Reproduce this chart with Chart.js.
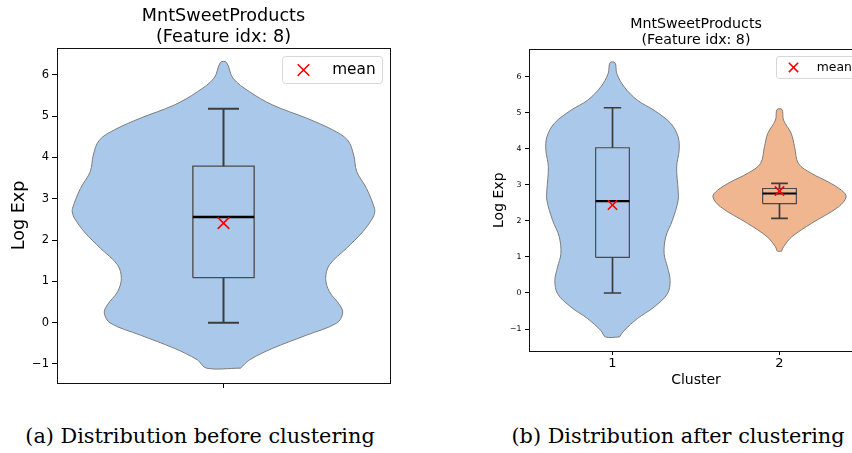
<!DOCTYPE html>
<html><head><meta charset="utf-8">
<script src="https://cdn.jsdelivr.net/npm/chart.js@4.4.1/dist/chart.umd.min.js"></script>
<style>
html,body{margin:0;padding:0;background:#fff;overflow:hidden;width:852px;height:453px;}
#wrap{position:relative;width:852px;height:453px;overflow:hidden;background:#fff;}
.cv{position:absolute;top:0;}
.cap{position:absolute;font-family:'DejaVu Serif';font-size:20.8px;line-height:21px;white-space:nowrap;color:#000;text-align:center;}
</style></head><body>
<div id="wrap">
<div class="cv" style="left:0;"><canvas id="c1" width="400" height="395"></canvas></div>
<div class="cv" style="left:480px;"><canvas id="c2" width="400" height="400"></canvas></div>
<div class="cap" style="left:0;width:400px;top:426px">(a) Distribution before clustering</div>
<div class="cap" style="left:478px;width:400px;top:426px">(b) Distribution after clustering</div>
</div>
<script>
// ---------- data ----------
const chartTitle = ['MntSweetProducts', '(Feature idx: 8)'];
const yAxisLabel = 'Log Exp';
const xAxisLabel = 'Cluster';
const meanLabel = 'mean';
const yTickValues = [-1, 0, 1, 2, 3, 4, 5, 6];
const clusterIds = [1, 2];

// (a) before clustering: violin outline (value, half width) and box stats
const allY  = [-1.10, -0.90, -0.62, -0.30, -0.01, 0.23, 0.43, 0.75, 1.07, 1.40, 1.80, 2.20, 2.53, 2.65, 2.77, 3.25, 3.66, 4.06, 4.42, 4.67, 4.95, 5.27, 5.59, 5.92, 6.30];
const allHW = [0.045, 0.069, 0.130, 0.220, 0.299, 0.315, 0.307, 0.280, 0.270, 0.280, 0.325, 0.368, 0.394, 0.399, 0.399, 0.378, 0.352, 0.344, 0.328, 0.288, 0.220, 0.130, 0.069, 0.025, 0.008];
const allBox = [0.00, 1.09, 2.56, 3.79, 5.18];   // min, q1, median, q3, max
const allMean = 2.41;

// (b) cluster 1
const c1Y  = [-1.22, -1.04, -0.71, -0.39, -0.02, 0.35, 0.72, 1.09, 1.56, 2.02, 2.57, 2.85, 3.50, 3.96, 4.33, 4.71, 5.07, 5.35, 5.72, 6.09, 6.39];
const c1HW = [0.042, 0.070, 0.149, 0.249, 0.329, 0.345, 0.329, 0.309, 0.319, 0.359, 0.393, 0.393, 0.384, 0.399, 0.393, 0.348, 0.249, 0.149, 0.070, 0.026, 0.015];
const c1Box = [0.00, 0.99, 2.55, 4.03, 5.14];
const c1Mean = 2.44;

// (b) cluster 2
const c2Y  = [1.16, 1.28, 1.56, 1.93, 2.39, 2.67, 2.85, 3.08, 3.32, 3.59, 4.06, 4.43, 4.80, 5.09];
const c2HW = [0.012, 0.024, 0.074, 0.191, 0.353, 0.399, 0.371, 0.293, 0.191, 0.114, 0.090, 0.070, 0.024, 0.015];
const c2Box = [2.07, 2.48, 2.76, 2.90, 3.04];
const c2Mean = 2.83;

// ---------- styling ----------
const BLUE = '#aac8ea', ORANGE = '#f0b690';
const FONT = "'DejaVu Sans'";

function violinPts(c, ys, hws) {
  const p = [];
  for (let i = 0; i < ys.length; i++) p.push({x: c + hws[i], y: ys[i]});
  for (let i = ys.length - 1; i >= 0; i--) p.push({x: c - hws[i], y: ys[i]});
  p.push({x: c + hws[0], y: ys[0]});
  return p;
}

function group(c, ys, hws, box, mean, color, st) {
  const [mn, q1, med, q3, mx] = box;
  const bw = st.boxHW, cw = st.capHW;
  const line = {type: 'scatter', showLine: true, pointRadius: 0, pointHoverRadius: 0, fill: false, tension: 0};
  return [
    {label: 'violin', data: violinPts(c, ys, hws), showLine: true, fill: 'shape', tension: 0.35,
     backgroundColor: color, borderColor: '#7c7c7c', borderWidth: 1, pointRadius: 0, order: 10},
    Object.assign({}, line, {label: 'box', order: 6, borderColor: '#4a4a4a', borderWidth: st.boxLW,
     data: [{x: c - bw, y: q1}, {x: c + bw, y: q1}, {x: c + bw, y: q3}, {x: c - bw, y: q3}, {x: c - bw, y: q1}]}),
    Object.assign({}, line, {label: 'whisker', order: 5, borderColor: '#3c3c3c', borderWidth: st.whLW, spanGaps: false,
     data: [{x: c, y: q3}, {x: c, y: mx}, {x: c, y: null}, {x: c - cw, y: mx}, {x: c + cw, y: mx}, {x: c, y: null},
            {x: c, y: q1}, {x: c, y: mn}, {x: c, y: null}, {x: c - cw, y: mn}, {x: c + cw, y: mn}]}),
    Object.assign({}, line, {label: 'median', order: 4, borderColor: '#000', borderWidth: st.medLW,
     data: [{x: c - bw, y: med}, {x: c + bw, y: med}]}),
    {label: meanLabel, isMean: true, data: [{x: c, y: mean}], showLine: false, pointStyle: 'crossRot',
     pointRadius: st.markR, pointHoverRadius: st.markR, borderColor: '#ff0000', backgroundColor: '#ff0000', borderWidth: 1.6, order: 1}
  ];
}

const framePlugin = {
  id: 'frame',
  afterDatasetsDraw(chart) {
    const {ctx, chartArea: a} = chart;
    ctx.save(); ctx.strokeStyle = '#111'; ctx.lineWidth = 1;
    ctx.strokeRect(Math.round(a.left) + 0.5, Math.round(a.top) + 0.5, Math.round(a.right - a.left), Math.round(a.bottom - a.top));
    ctx.restore();
  }
};
const legendPlugin = {
  id: 'meanLegend',
  afterDraw(chart, args, o) {
    const ds = chart.data.datasets.find(d => d.isMean);
    const s = o.scale, a = chart.chartArea, ctx = chart.ctx;
    const w = 100 * s, h = 27 * s, m = 7.7 * s;
    const x0 = Math.round(a.right - m - w) + 0.5, y0 = Math.round(a.top + m) + 0.5;
    ctx.save();
    ctx.beginPath(); ctx.roundRect(x0, y0, w, h, 3 * s);
    ctx.fillStyle = 'rgba(255,255,255,0.85)'; ctx.fill();
    ctx.strokeStyle = '#d6d6d6'; ctx.lineWidth = 1; ctx.stroke();
    ctx.strokeStyle = ds.borderColor; ctx.fillStyle = ds.borderColor; ctx.lineWidth = ds.borderWidth;
    Chart.helpers.drawPoint(ctx, {pointStyle: ds.pointStyle, radius: ds.pointRadius, borderWidth: ds.borderWidth, rotation: 0}, x0 + 21 * s, y0 + h / 2);
    ctx.fillStyle = '#000'; ctx.font = (15.3 * s) + 'px ' + FONT; ctx.textBaseline = 'middle'; ctx.textAlign = 'left';
    ctx.fillText(ds.label, x0 + 49.7 * s, y0 + h / 2 + 0.5);
    ctx.restore();
  }
};

const fmt = v => v < 0 ? '\u2212' + Math.abs(v) : String(v);

function makeChart(id, cfg) {
  return new Chart(document.getElementById(id), {
    type: 'scatter',
    data: {datasets: cfg.datasets},
    plugins: [framePlugin, legendPlugin],
    options: {
      responsive: false, animation: false, devicePixelRatio: 1,
      layout: {padding: cfg.pad},
      plugins: {
        legend: {display: false}, tooltip: {enabled: false},
        title: {display: true, text: chartTitle, fullSize: false, color: '#000',
          font: {family: FONT, size: cfg.titleSize, weight: 'normal', lineHeight: cfg.titleLH},
          padding: cfg.titlePad},
        meanLegend: {scale: cfg.legScale}
      },
      scales: {
        x: {type: 'linear', min: cfg.xMin, max: cfg.xMax,
          afterBuildTicks: ax => { ax.ticks = cfg.xTicks.map(v => ({value: v})); },
          afterFit: ax => { ax.height = cfg.xH; },
          ticks: {callback: cfg.xLabel, color: '#000', padding: cfg.xTickPad, maxRotation: 0,
                  font: {family: FONT, size: cfg.xTickSize}},
          grid: {drawOnChartArea: false, drawTicks: true, tickLength: cfg.tickLen, color: '#000', tickWidth: 1},
          border: {display: true, color: '#111', width: 1},
          title: cfg.xTitle
        },
        y: {type: 'linear', min: cfg.yMin, max: cfg.yMax,
          afterBuildTicks: ax => { ax.ticks = yTickValues.map(v => ({value: v})); },
          afterFit: ax => { ax.width = cfg.yW; },
          ticks: {callback: fmt, color: '#000', padding: cfg.yTickPad, font: {family: FONT, size: cfg.yTickSize}},
          grid: {drawOnChartArea: false, drawTicks: true, tickLength: cfg.tickLen, color: '#000', tickWidth: 1},
          border: {display: true, color: '#111', width: 1},
          title: {display: true, text: yAxisLabel, color: '#000', font: {family: FONT, size: cfg.yTitleSize, lineHeight: 1.2},
                  padding: {top: cfg.yTitlePad, bottom: 0}}
        }
      }
    }
  });
}

// (a)
makeChart('c1', {
  datasets: group(0, allY, allHW, allBox, allMean, BLUE, {boxHW: 0.081, capHW: 0.041, boxLW: 1.3, whLW: 2, medLW: 2.4, markR: 8.2}),
  pad: {left: 0, right: 10, top: 0, bottom: 0},
  titleSize: 17.6, titleLH: '20.5px', titlePad: {top: 6.5, bottom: 0.5},
  legScale: 1,
  xMin: -0.44, xMax: 0.44, xTicks: [0], xLabel: () => '', xH: 12, xTickPad: 0, xTickSize: 10,
  tickLen: 5, xTitle: {display: false},
  yMin: -1.46, yMax: 6.65, yW: 57, yTickPad: 3, yTickSize: 11.5, yTitleSize: 17.6, yTitlePad: 8.5
});

// (b)
const clusterCenters = clusterIds;
makeChart('c2', {
  datasets: [].concat(
    group(clusterCenters[0], c1Y, c1HW, c1Box, c1Mean, BLUE, {boxHW: 0.101, capHW: 0.052, boxLW: 1.2, whLW: 1.7, medLW: 2.1, markR: 6.6}),
    group(clusterCenters[1], c2Y, c2HW, c2Box, c2Mean, ORANGE, {boxHW: 0.101, capHW: 0.05, boxLW: 1.2, whLW: 1.7, medLW: 2.1, markR: 6.6})
  ),
  pad: {left: 0, right: 17, top: 0, bottom: 0},
  titleSize: 14.2, titleLH: '16.2px', titlePad: {top: 16.5, bottom: 0.5},
  legScale: 0.81,
  xMin: 0.5, xMax: 2.5, xTicks: clusterIds, xLabel: v => String(v), xH: 49, xTickPad: 1, xTickSize: 13,
  tickLen: 4,
  xTitle: {display: true, text: xAxisLabel, color: '#000', font: {family: FONT, size: 14, lineHeight: 1.2}, padding: {top: 0, bottom: 11.6}},
  yMin: -1.61, yMax: 6.76, yW: 49, yTickPad: 3.5, yTickSize: 7.8, yTitleSize: 14, yTitlePad: 10.8
});
</script>
</body></html>
